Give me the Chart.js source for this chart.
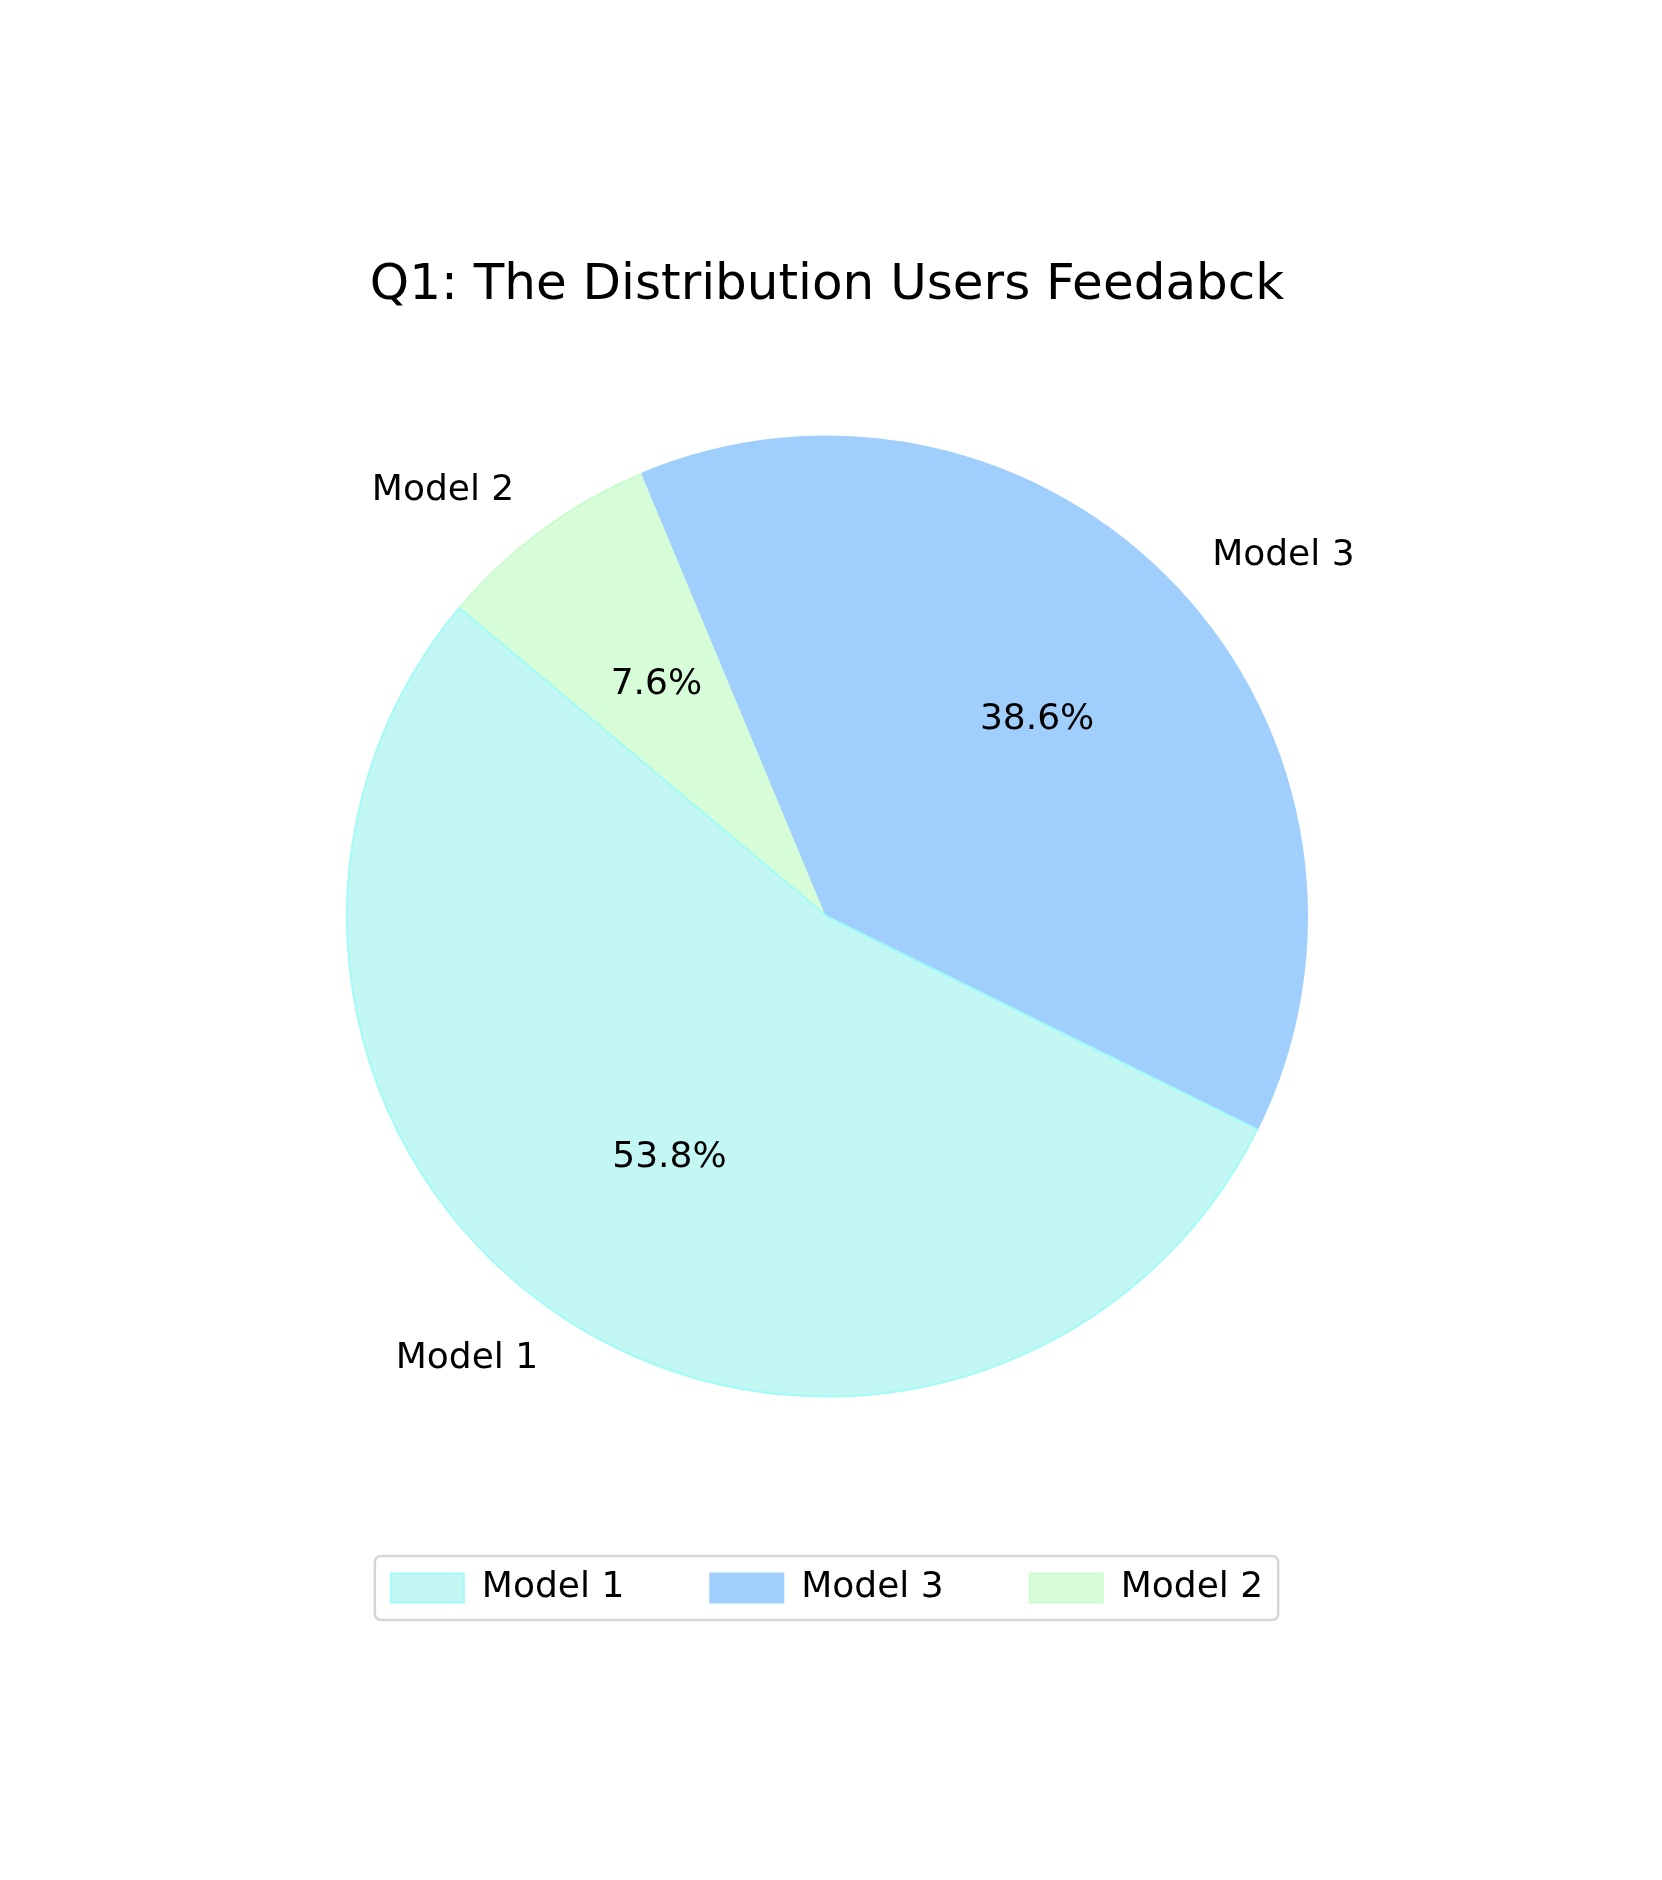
<!DOCTYPE html>
<html>
<head>
<meta charset="utf-8">
<script src="https://cdn.jsdelivr.net/npm/chart.js@4.4.0/dist/chart.umd.min.js"></script>
<style>
  html, body { margin: 0; padding: 0; background: #ffffff; }
  #wrap { width: 1662px; height: 1880px; }
</style>
</head>
<body>
<div id="wrap"><canvas id="pieChart" width="1662" height="1880"></canvas></div>
<script>
// legend order
var labels = ["Model 1", "Model 3", "Model 2"];
var shares = [53.8, 38.6, 7.6];
var fillColors = ["#C3F7F4", "#A0CFFD", "#D6FDD8"];
var edgeColors = ["#A2FBF6", "#A0CFFD", "#CCFBCF"];
var chartTitle = "Q1: The Distribution Users Feedabck";

var FONT = "'DejaVu Sans', sans-serif";

// the reference runs counter-clockwise; Chart.js draws clockwise, so feed it reversed
var drawLabels = labels.slice().reverse();
var drawShares = shares.slice().reverse();
var drawFill = fillColors.slice().reverse();
var drawEdge = edgeColors.slice().reverse();

// labels outside (1.1 r) and percentages inside (0.6 r)
var sliceText = {
    id: 'sliceText',
    afterDatasetsDraw: function (chart) {
        var ctx = chart.ctx;
        var meta = chart.getDatasetMeta(0);
        var total = drawShares.reduce(function (a, b) { return a + b; }, 0);
        ctx.save();
        ctx.font = "36px " + FONT;
        ctx.fillStyle = "#000000";
        meta.data.forEach(function (arc, i) {
            var p = arc.getProps(['x', 'y', 'startAngle', 'endAngle', 'outerRadius'], true);
            var mid = (p.startAngle + p.endAngle) / 2;
            var cx = Math.cos(mid), cy = Math.sin(mid);
            ctx.textBaseline = 'middle';
            ctx.textAlign = cx < 0 ? 'right' : 'left';
            ctx.fillText(drawLabels[i], p.x + cx * p.outerRadius * 1.1, p.y + cy * p.outerRadius * 1.1);
            ctx.textAlign = 'center';
            var pct = (drawShares[i] / total * 100).toFixed(1) + '%';
            ctx.fillText(pct, p.x + cx * p.outerRadius * 0.6, p.y + cy * p.outerRadius * 0.6);
        });
        ctx.restore();
    }
};

// rounded frame around the legend
var legendFrame = {
    id: 'legendFrame',
    afterDraw: function (chart) {
        var lg = chart.legend;
        if (!lg || !lg.legendHitBoxes.length) return;
        var boxes = lg.legendHitBoxes;
        var x0 = Math.min.apply(null, boxes.map(function (b) { return b.left; })) - 16;
        var x1 = Math.max.apply(null, boxes.map(function (b) { return b.left + b.width; })) + 15;
        var yc = boxes[0].top + boxes[0].height / 2;
        var ctx = chart.ctx;
        ctx.save();
        ctx.strokeStyle = "#d6d6d6";
        ctx.lineWidth = 2.5;
        ctx.beginPath();
        ctx.roundRect(x0, yc - 32, x1 - x0, 64, 6);
        ctx.stroke();
        ctx.restore();
    }
};

var ctx = document.getElementById("pieChart").getContext('2d');
var myPieChart = new Chart(ctx, {
    type: 'pie',
    data: {
        labels: drawLabels,
        datasets: [{
            data: drawShares,
            backgroundColor: drawFill,
            borderColor: drawEdge,
            borderWidth: 2,
            radius: 480
        }]
    },
    options: {
        responsive: false,
        animation: false,
        rotation: -50,
        layout: { padding: { top: 0, bottom: 264, left: 0, right: 8 } },
        plugins: {
            title: {
                display: true,
                text: chartTitle,
                color: "#000000",
                font: { family: FONT, size: 50, weight: 'normal', lineHeight: 1.2 },
                padding: { top: 256, bottom: 33 }
            },
            legend: {
                display: true,
                position: 'bottom',
                reverse: true,
                labels: {
                    color: "#000000",
                    font: { family: FONT, size: 36 },
                    boxWidth: 73,
                    boxHeight: 29,
                    padding: 86
                }
            },
            tooltip: { enabled: false }
        }
    },
    plugins: [sliceText, legendFrame]
});
</script>
</body>
</html>
